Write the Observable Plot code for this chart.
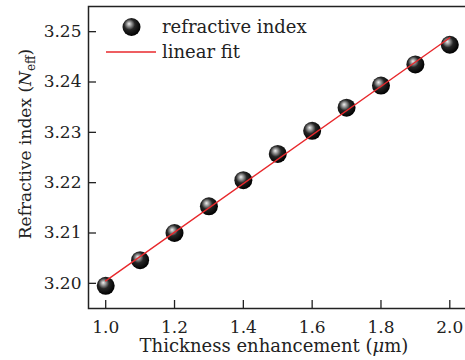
<!DOCTYPE html>
<html>
<head>
<meta charset="utf-8">
<script src="https://cdn.jsdelivr.net/npm/d3@7"></script>
<script src="https://cdn.jsdelivr.net/npm/@observablehq/plot@0.6"></script>
<style>
  html, body { margin: 0; padding: 0; background: #fff; }
  #chart svg { font-family: "DejaVu Serif", serif; }
</style>
</head>
<body>
<div id="chart"></div>
<script>
// Data
const thickness = [1.0, 1.1, 1.2, 1.3, 1.4, 1.5, 1.6, 1.7, 1.8, 1.9, 2.0];
const nEff = [3.1995, 3.2046, 3.2100, 3.2153, 3.2205, 3.2257, 3.2303, 3.2349, 3.2393, 3.2435, 3.2474];
const fitX = [1.0, 2.0];
const fitY = [3.2005, 3.2488];
const xTicks = [1.0, 1.2, 1.4, 1.6, 1.8, 2.0];
const yTicks = [3.20, 3.21, 3.22, 3.23, 3.24, 3.25];

const points = thickness.map((x, i) => ({x, y: nEff[i]}));
const fit = fitX.map((x, i) => ({x, y: fitY[i]}));

const W = 465, H = 360;
const fontSize = 17;
const axisColor = "#222";
const red = "#e8282c";

const plot = Plot.plot({
  width: W,
  height: H,
  marginLeft: 88,
  marginRight: -1.5,
  marginTop: 6,
  marginBottom: 52,
  style: {fontFamily: "DejaVu Serif, serif", fontSize: fontSize + "px", background: "#fff", color: axisColor, overflow: "hidden"},
  x: {domain: [0.95, 2.05]},
  y: {domain: [3.195, 3.255]},
  marks: [
    Plot.axisX(xTicks, {anchor: "bottom", tickSize: -8, fill: "none", label: null, strokeWidth: 1.3}),
    Plot.axisX(xTicks, {anchor: "bottom", tickSize: 0, tickPadding: 12, tickFormat: d => d.toFixed(1), label: null, fontSize}),
    Plot.axisY(yTicks, {anchor: "left", tickSize: -8, fill: "none", label: null, strokeWidth: 1.3}),
    Plot.axisY(yTicks, {anchor: "left", tickSize: 0, tickPadding: 7, tickFormat: d => d.toFixed(2), label: null, fontSize}),
    Plot.frame({stroke: axisColor, strokeWidth: 1.5}),
    Plot.dot(points, {x: "x", y: "y", r: 9, fill: "url(#sphere)", stroke: "none"}),
    Plot.line(fit, {x: "x", y: "y", stroke: red, strokeWidth: 1.4})
  ]
});

const svg = d3.select(plot);
const defs = svg.insert("defs", ":first-child");
const grad = defs.append("radialGradient")
  .attr("id", "sphere")
  .attr("cx", "0.42").attr("cy", "0.4").attr("r", "0.6")
  .attr("fx", "0.36").attr("fy", "0.32");
grad.append("stop").attr("offset", "0").attr("stop-color", "#f0f0f0");
grad.append("stop").attr("offset", "0.18").attr("stop-color", "#a8a8a8");
grad.append("stop").attr("offset", "0.5").attr("stop-color", "#262626");
grad.append("stop").attr("offset", "1").attr("stop-color", "#000");

// Axis titles
const xt = svg.append("text")
  .attr("x", 274).attr("y", 352)
  .attr("text-anchor", "middle")
  .attr("fill", axisColor)
  .style("font-size", "18px");
xt.append("tspan").text("Thickness enhancement (");
xt.append("tspan").attr("font-style", "italic").text("μ");
xt.append("tspan").text("m)");

const yt = svg.append("text")
  .attr("transform", "translate(31,144) rotate(-90)")
  .attr("text-anchor", "middle")
  .attr("fill", axisColor)
  .style("font-size", fontSize + "px");
yt.append("tspan").text("Refractive index (");
yt.append("tspan").attr("font-style", "italic").text("N");
yt.append("tspan").attr("font-size", "12px").attr("dy", "4").text("eff");
yt.append("tspan").attr("dy", "-4").text(")");

// Legend (inside the frame, top-left)
const lg = svg.append("g").attr("fill", axisColor).attr("text-anchor", "start").style("font-size", "18px");
lg.append("circle").attr("cx", 131.5).attr("cy", 27).attr("r", 9).attr("fill", "url(#sphere)");
lg.append("text").attr("x", 162).attr("y", 33).text("refractive index");
lg.append("line").attr("x1", 106).attr("x2", 156).attr("y1", 52).attr("y2", 52)
  .attr("stroke", red).attr("stroke-width", 1.4);
lg.append("text").attr("x", 162).attr("y", 58).text("linear fit");

document.getElementById("chart").appendChild(plot);
</script>
</body>
</html>
